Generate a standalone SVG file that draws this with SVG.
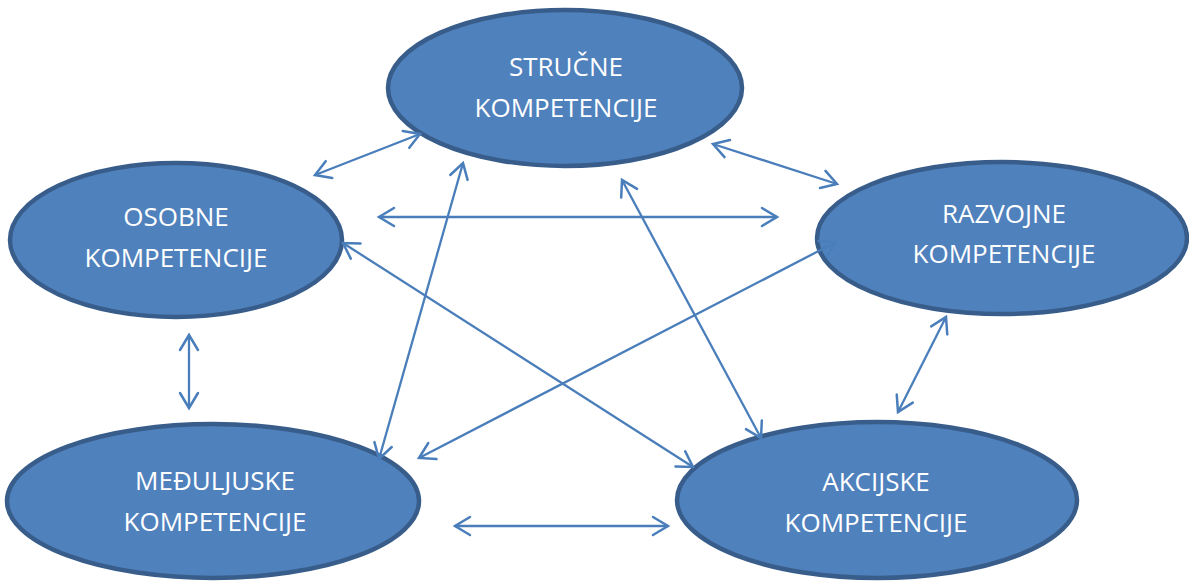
<svg xmlns="http://www.w3.org/2000/svg" width="1189" height="581" viewBox="0 0 1189 581">
<style>
.node ellipse{fill:#4f81bd;stroke:#385d8a;stroke-width:4.5}
.node text{fill:#ffffff;font-family:"Open Sans","Liberation Sans",sans-serif;font-size:26px;text-anchor:middle}
.conn line{stroke:#4a7ebb;stroke-width:2.3;fill:none;marker-start:url(#ah);marker-end:url(#ah)}
</style>
<defs>
<marker id="ah" markerUnits="userSpaceOnUse" viewBox="-20 -12 24 24" refX="0" refY="0" markerWidth="24" markerHeight="24" orient="auto-start-reverse">
<path d="M-15,-9 L0,0 L-15,9" fill="none" stroke="#4a7ebb" stroke-width="2.5" stroke-linecap="round" stroke-linejoin="miter"/>
</marker>
</defs>
<rect width="1189" height="581" fill="#ffffff"/>
<g id="n-strucne" class="node">
<ellipse cx="565" cy="88" rx="177" ry="78"/>
<text x="566" y="76">STRUČNE</text>
<text x="566" y="117">KOMPETENCIJE</text>
</g>
<g id="n-osobne" class="node">
<ellipse cx="176" cy="240" rx="166" ry="77"/>
<text x="176" y="226">OSOBNE</text>
<text x="176" y="267">KOMPETENCIJE</text>
</g>
<g id="n-razvojne" class="node">
<ellipse cx="1002" cy="238" rx="185" ry="76"/>
<text x="1004" y="223">RAZVOJNE</text>
<text x="1004" y="263">KOMPETENCIJE</text>
</g>
<g id="n-meduljuske" class="node">
<ellipse cx="213" cy="501" rx="206" ry="77"/>
<text x="215" y="490">MEĐULJUSKE</text>
<text x="215" y="531">KOMPETENCIJE</text>
</g>
<g id="n-akcijske" class="node">
<ellipse cx="877" cy="500" rx="200" ry="78"/>
<text x="876" y="491">AKCIJSKE</text>
<text x="876" y="532">KOMPETENCIJE</text>
</g>
<g id="connectors" class="conn">
<line x1="315" y1="175" x2="420" y2="134"/>
<line x1="379" y1="217" x2="777" y2="217"/>
<line x1="189" y1="335" x2="189" y2="408"/>
<line x1="379" y1="459" x2="463" y2="163"/>
<line x1="419" y1="458" x2="836" y2="242"/>
<line x1="343" y1="243" x2="693" y2="467"/>
<line x1="622" y1="180" x2="761" y2="438"/>
<line x1="713" y1="144" x2="837" y2="184"/>
<line x1="946" y1="317" x2="898" y2="412"/>
<line x1="455" y1="526" x2="668" y2="526"/>
</g>
</svg>
